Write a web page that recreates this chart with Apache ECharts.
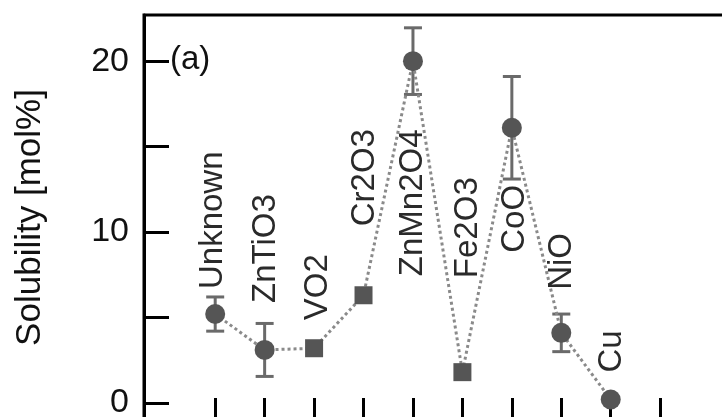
<!DOCTYPE html>
<html>
<head>
<meta charset="utf-8">
<script src="https://cdn.jsdelivr.net/npm/echarts@6/dist/echarts.min.js"></script>
<style>
html,body{margin:0;padding:0;background:#fff;}
#chart{width:722px;height:417px;}
</style>
</head>
<body>
<div id="chart"></div>
<script>
// ---- data ----
const categories = ['Unknown', 'ZnTiO3', 'VO2', 'Cr2O3', 'ZnMn2O4', 'Fe2O3', 'CoO', 'NiO', 'Cu'];
const solubility = [5.2, 3.1, 3.2, 6.3, 20.0, 1.8, 16.1, 4.1, 0.2];
const errorPlusMinus = [1.0, 1.55, null, null, 1.95, null, 3.0, 1.1, null];
const yTickValues = [0, 5, 10, 15, 20];
const yLabelValues = [0, 10, 20];
const xTickValues = [1, 2, 3, 4, 5, 6, 7, 8, 9, 10];
const panelLabel = '(a)';
const yAxisTitle = 'Solubility [mol%]';

// ---- styles (not data) ----
const markerShapes = ['circle', 'circle', 'rect', 'rect', 'circle', 'rect', 'circle', 'circle', 'circle'];
const labelOffsets = [[25, -2], [47, 1], [28, 4], [69, 1], [-215, 0], [94, 6], [-125, 3], [43, 1], [27, 1]];

const FONT = 'Liberation Sans, Arial, Helvetica, sans-serif';
const points = categories.map((c, i) => ({
  name: c,
  value: [i + 1, solubility[i]],
  symbol: markerShapes[i],
  symbolSize: markerShapes[i] === 'rect' ? 18 : 20,
  label: { offset: labelOffsets[i] }
}));
const errData = categories.map((c, i) => errorPlusMinus[i] == null ? null :
  [i + 1, solubility[i] - errorPlusMinus[i], solubility[i] + errorPlusMinus[i]]).filter(d => d);

const chart = echarts.init(document.getElementById('chart'), null, { renderer: 'canvas' });
chart.setOption({
  animation: false,
  backgroundColor: '#fff',
  title: {
    text: panelLabel, left: 170, top: 43, padding: 0,
    textStyle: { fontFamily: FONT, fontSize: 33, fontWeight: 'normal', color: '#111' }
  },
  grid: {
    left: 144, top: 15, width: 620, height: 405,
    outerBoundsMode: 'none', containLabel: false,
    show: true, borderColor: '#000', borderWidth: 3, backgroundColor: 'transparent'
  },
  xAxis: {
    type: 'value', min: -0.44, max: 12.1,
    axisLine: { show: true, onZero: false, lineStyle: { color: '#000', width: 3 } },
    axisTick: { show: true, inside: true, length: 22, customValues: xTickValues, lineStyle: { color: '#000', width: 3 } },
    axisLabel: { show: false },
    splitLine: { show: false }
  },
  yAxis: {
    type: 'value', min: -1, max: 22.7,
    name: yAxisTitle, nameLocation: 'middle', nameGap: 96, nameRotate: 90,
    nameTextStyle: { fontFamily: FONT, fontSize: 35, color: '#111' },
    axisLine: { show: true, onZero: false, lineStyle: { color: '#000', width: 3 } },
    axisTick: { show: true, inside: true, length: 25, customValues: yTickValues, lineStyle: { color: '#000', width: 3 } },
    axisLabel: { show: true, customValues: yLabelValues, margin: 15, fontFamily: FONT, fontSize: 34, color: '#111' },
    splitLine: { show: false }
  },
  series: [
    {
      type: 'custom',
      z: 1,
      data: errData,
      renderItem: function (params, api) {
        const x = api.value(0);
        const lo = api.coord([x, api.value(1)]);
        const hi = api.coord([x, api.value(2)]);
        const hw = 9;
        const style = { stroke: '#6a6a6a', lineWidth: 3 };
        return {
          type: 'group',
          children: [
            { type: 'line', shape: { x1: lo[0], y1: lo[1], x2: hi[0], y2: hi[1] }, style: style },
            { type: 'line', shape: { x1: lo[0] - hw, y1: lo[1], x2: lo[0] + hw, y2: lo[1] }, style: style },
            { type: 'line', shape: { x1: hi[0] - hw, y1: hi[1], x2: hi[0] + hw, y2: hi[1] }, style: style }
          ]
        };
      }
    },
    {
      type: 'line',
      z: 3,
      data: points,
      lineStyle: { color: '#8a8a8a', width: 3, type: [3, 3] },
      itemStyle: { color: '#555', opacity: 1 },
      label: {
        show: true, position: 'inside', rotate: 90, align: 'left', verticalAlign: 'middle',
        formatter: '{b}',
        fontFamily: FONT, fontSize: 33, color: '#2a2a2a'
      },
      emphasis: { disabled: true }
    }
  ]
});
</script>
</body>
</html>
